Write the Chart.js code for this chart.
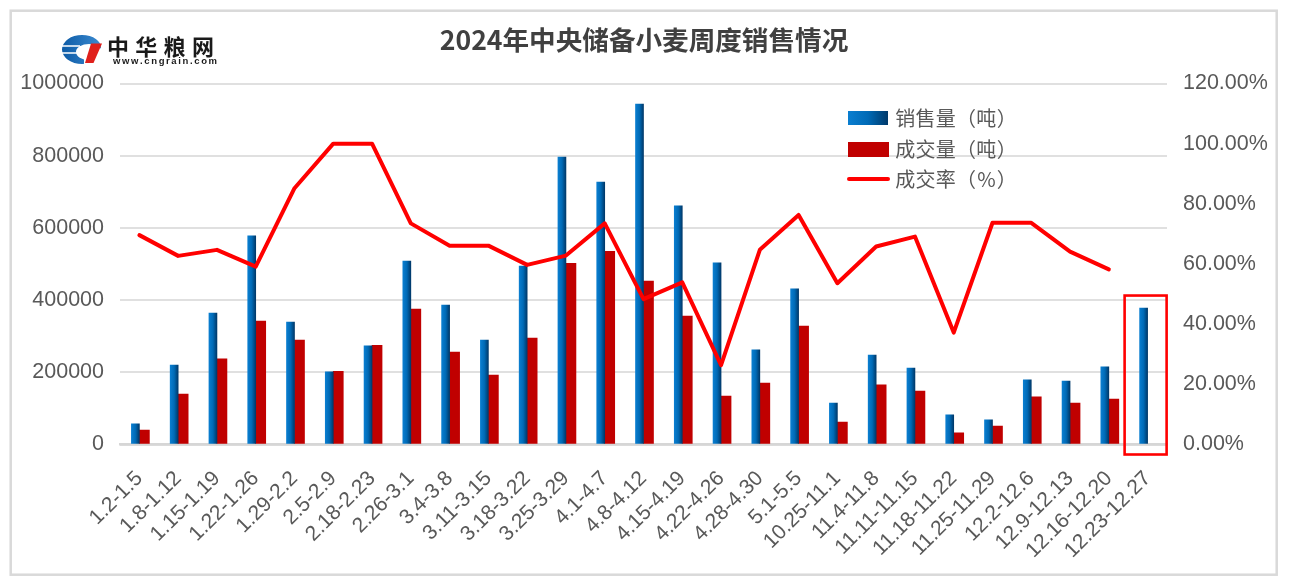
<!DOCTYPE html>
<html><head><meta charset="utf-8">
<script src="https://cdn.jsdelivr.net/npm/chart.js@4.4.1/dist/chart.umd.min.js"></script>
<style>html,body{margin:0;padding:0;background:#fff;overflow:hidden}#wrap{position:relative;width:1290px;height:582px}</style>
</head><body><div id="wrap"><canvas id="c" width="1290" height="582"></canvas></div>
<script>
const categories = ['1.2-1.5','1.8-1.12','1.15-1.19','1.22-1.26','1.29-2.2','2.5-2.9','2.18-2.23','2.26-3.1','3.4-3.8','3.11-3.15','3.18-3.22','3.25-3.29','4.1-4.7','4.8-4.12','4.15-4.19','4.22-4.26','4.28-4.30','5.1-5.5','10.25-11.1','11.4-11.8','11.11-11.15','11.18-11.22','11.25-11.29','12.2-12.6','12.9-12.13','12.16-12.20','12.23-12.27'];
const salesVolume = [57000,220000,364000,578000,339000,201000,273000,508000,386000,289000,494000,796000,727000,943000,661000,503000,262000,431000,115000,248000,212000,82000,68000,179000,176000,215000,378000];
const dealVolume = [40000,140000,237000,342000,289000,203000,275000,375000,256000,192000,295000,502000,535000,453000,356000,134000,170000,328000,62000,165000,148000,32000,51000,132000,115000,126000,null];
const dealRate = [69.6,62.7,64.7,59.1,85.2,100,100,73.5,66.1,66.1,59.7,62.8,73.5,48.3,53.9,26.4,64.7,76.3,53.6,65.8,69.1,37.2,73.7,73.7,64.1,58.2,null];
const seriesNames = ['销售量（吨）','成交量（吨）','成交率（%）'];
const titleText = '2024年中央储备小麦周度销售情况';
const logoName = ['中','华','粮','网'];
const logoUrl = 'www.cngrain.com';

const TICK_FONT = "'Liberation Sans', Arial, sans-serif";
const CJK_FONT = "'Noto Sans CJK SC', 'Noto Sans', sans-serif";
const TXT = '#595959';

function blueGrad(ctx, x0, x1) {
  const g = ctx.createLinearGradient(x0, 0, x1, 0);
  g.addColorStop(0, '#0A7ED0');
  g.addColorStop(0.5, '#006AB6');
  g.addColorStop(1, '#00396A');
  return g;
}

const gradientPlugin = {
  id: 'barGradient',
  beforeDatasetsDraw(chart) {
    const meta = chart.getDatasetMeta(1);
    const ctx = chart.ctx;
    meta.data.forEach(el => {
      if (!isFinite(el.x) || !isFinite(el.width)) return;
      const g = blueGrad(ctx, el.x - el.width / 2, el.x + el.width / 2);
      el.options = Object.assign({}, el.options, { backgroundColor: g });
    });
  }
};

function spacedText(ctx, text, x, y, step) {
  text.split('').forEach((ch, i) => {
    const w = ctx.measureText(ch).width;
    ctx.fillText(ch, x + i * step + (step - w) / 2, y);
  });
}

const framePlugin = {
  id: 'frame',
  beforeDraw(chart) {
    const ctx = chart.ctx;
    ctx.save();
    ctx.fillStyle = '#fff';
    ctx.fillRect(0, 0, chart.width, chart.height);
    ctx.strokeStyle = '#D9D9D9';
    ctx.lineWidth = 2.5;
    ctx.strokeRect(10.7, 10.7, 1266, 564);
    ctx.restore();
  },
  afterDraw(chart) {
    const ctx = chart.ctx;
    ctx.save();
    ctx.font = 'bold 26.6px ' + CJK_FONT;
    ctx.fillStyle = '#404040';
    ctx.textAlign = 'center';
    ctx.textBaseline = 'middle';
    ctx.fillText(titleText, 644, 40);
    // logo icon
    ctx.save();
    ctx.beginPath();
    ctx.moveTo(60, 33); ctx.lineTo(101, 33); ctx.lineTo(101, 50); ctx.lineTo(84, 50); ctx.lineTo(84, 66); ctx.lineTo(60, 66); ctx.closePath();
    ctx.clip();
    ctx.beginPath();
    ctx.ellipse(82, 49.5, 20, 14.5, 0, 0, Math.PI * 2);
    ctx.ellipse(89, 52, 13, 8, 0, 0, Math.PI * 2);
    const lg = ctx.createLinearGradient(62, 0, 101, 0);
    lg.addColorStop(0, '#0D5BA6'); lg.addColorStop(1, '#3B8AD0');
    ctx.fillStyle = lg;
    ctx.fill('evenodd');
    ctx.strokeStyle = '#fff';
    ctx.lineWidth = 1.4;
    ctx.beginPath();
    ctx.moveTo(60, 46); ctx.lineTo(80, 46);
    ctx.moveTo(60, 53); ctx.lineTo(78, 53);
    ctx.stroke();
    ctx.restore();
    ctx.fillStyle = '#E0201B';
    ctx.beginPath();
    ctx.moveTo(91, 43.5); ctx.lineTo(102, 43.5); ctx.lineTo(93.5, 63); ctx.lineTo(85, 63); ctx.closePath();
    ctx.fill();
    // logo text
    ctx.fillStyle = '#1A1A1A';
    ctx.textAlign = 'left';
    ctx.textBaseline = 'middle';
    ctx.font = 'bold 22px ' + CJK_FONT;
    logoName.forEach((ch, i) => ctx.fillText(ch, 107 + i * 28.3, 46.5));
    ctx.font = 'bold 9.5px ' + TICK_FONT;
    const chars = logoUrl.split('');
    const natural = chars.reduce((s, c) => s + ctx.measureText(c).width, 0);
    const gap = (104 - natural) / (chars.length - 1);
    let ux = 113;
    chars.forEach(c => { ctx.fillText(c, ux, 61); ux += ctx.measureText(c).width + gap; });
    // legend
    const lx = 848;
    const rows = [118, 149, 179];
    ctx.fillStyle = blueGrad(ctx, lx, lx + 40);
    ctx.fillRect(lx, 111, 40, 14);
    ctx.fillStyle = '#C00000';
    ctx.fillRect(lx, 142, 41, 15);
    ctx.strokeStyle = '#FF0000';
    ctx.lineWidth = 4;
    ctx.lineCap = 'round';
    ctx.beginPath(); ctx.moveTo(lx + 1, 179); ctx.lineTo(lx + 40, 179); ctx.stroke();
    ctx.font = '20px ' + CJK_FONT;
    ctx.fillStyle = TXT;
    seriesNames.forEach((t, i) => spacedText(ctx, t, 895, rows[i], 20.3));
    ctx.restore();
  }
};

const highlightPlugin = {
  id: 'highlight',
  afterDatasetsDraw(chart) {
    const meta = chart.getDatasetMeta(1);
    const last = meta.data[meta.data.length - 1];
    if (!last) return;
    const xc = chart.scales.x.getPixelForValue(categories.length - 1);
    const ctx = chart.ctx;
    ctx.save();
    ctx.strokeStyle = '#FF0000';
    ctx.lineWidth = 2.6;
    const top = last.y - 12.5;
    const bottom = chart.chartArea.bottom + 10;
    ctx.strokeRect(xc - 23, top, 42, bottom - top);
    ctx.restore();
  }
};

new Chart(document.getElementById('c'), {
  type: 'bar',
  data: {
    labels: categories,
    datasets: [
      {
        type: 'line', label: seriesNames[2], data: dealRate, yAxisID: 'y1', order: 0,
        borderColor: '#FF0000', backgroundColor: '#FF0000', borderWidth: 4,
        pointRadius: 0, tension: 0, borderJoinStyle: 'round', borderCapStyle: 'round', fill: false
      },
      {
        label: seriesNames[0], data: salesVolume, yAxisID: 'y', order: 1, barThickness: 8,
        backgroundColor: '#0070C0'
      },
      {
        label: seriesNames[1], data: dealVolume, yAxisID: 'y', order: 2, barThickness: 10,
        backgroundColor: '#C00000'
      }
    ]
  },
  options: {
    responsive: false,
    animation: false,
    layout: { padding: { top: 83.5, left: 0, right: 0, bottom: 0 } },
    plugins: { legend: { display: false }, tooltip: { enabled: false }, title: { display: false } },
    scales: {
      x: {
        grid: { display: false, drawTicks: false },
        border: { display: true, color: '#D6D6D6', width: 2.5 },
        ticks: {
          autoSkip: false, maxRotation: 45, minRotation: 45, padding: 30, color: TXT,
          font: { family: TICK_FONT, size: 21, lineHeight: '2px' }
        },
        afterFit: (s) => { s.height = 137.5; }
      },
      y: {
        position: 'left', min: 0, max: 1000000,
        grid: { color: '#E0E0E0', lineWidth: 2, drawTicks: false },
        border: { display: false },
        ticks: { stepSize: 200000, padding: 16, color: TXT, font: { family: TICK_FONT, size: 21.5 },
          callback: (v) => String(v) },
        afterFit: (s) => { s.width = 120; }
      },
      y1: {
        position: 'right', min: 0, max: 120,
        grid: { display: false, drawTicks: false },
        border: { display: false },
        ticks: { stepSize: 20, padding: 16, color: TXT, font: { family: TICK_FONT, size: 21.5 },
          callback: (v) => Number(v).toFixed(2) + '%' },
        afterFit: (s) => { s.width = 123; }
      }
    }
  },
  plugins: [framePlugin, gradientPlugin, highlightPlugin]
});
</script>
</body></html>
